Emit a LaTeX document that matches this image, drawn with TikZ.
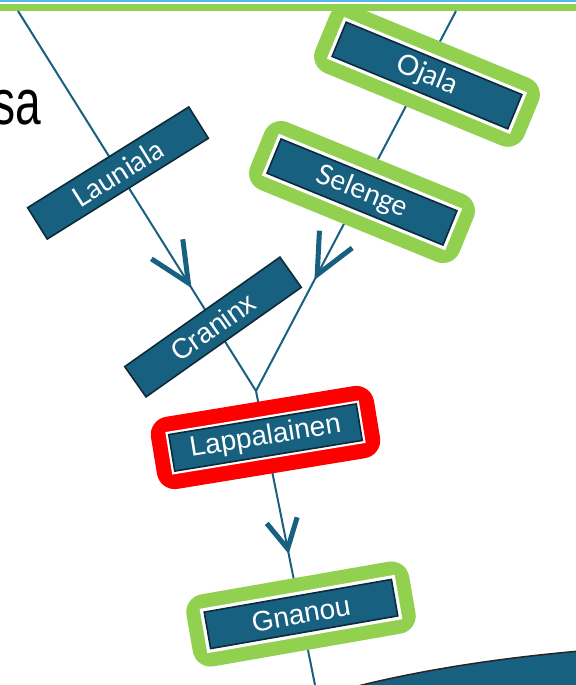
\documentclass[tikz,border=0pt]{standalone}
\usepackage{fontspec}
\setmainfont{Liberation Sans}
\newfontfamily\latofont{Lato}
\usetikzlibrary{arrows.meta,decorations.markings}
\definecolor{riverblue}{HTML}{17607F}
\definecolor{boxline}{HTML}{0E2A38}
\definecolor{okgreen}{HTML}{92D050}
\definecolor{skyline}{HTML}{56B4E9}
\tikzset{
  bigbarb/.tip={Straight Barb[length=20pt,width=18.5pt,line width=2.5pt,color=riverblue]},
  smallbarb/.tip={Straight Barb[length=14.5pt,width=15.5pt,line width=2.5pt,color=riverblue]}
}
\begin{document}
\begin{tikzpicture}[x=0.5pt,y=-0.5pt,
  flow/.style={riverblue,line width=1pt},
  lbl/.style={draw=boxline,fill=riverblue,line width=0.8pt,text=white,
    minimum width=95pt,minimum height=18.5pt,inner sep=0pt,
    font=\fontsize{14pt}{16pt}\selectfont},
  okframe/.style={preaction={draw=okgreen,line width=18pt,line join=round},
    preaction={draw=white,line width=4pt}},
  badframe/.style={preaction={draw=red,line width=18pt,line join=round},
    preaction={draw=white,line width=3pt}}]
\useasboundingbox (0,0) rectangle (576,685);

% top rules
\draw[skyline,line width=0.8pt] (0,0.8) -- (576,0.8);
\draw[okgreen,line width=3.5pt] (0,7.5) -- (576,7.5);

\node[anchor=base west,inner sep=0pt,xscale=0.72,font=\fontsize{32pt}{36pt}\selectfont] (title) at (-7.5,124) {sa};

% river lines
\coordinate (srcA) at (18,11);
\coordinate (srcB) at (456,11);
\coordinate (jn) at (256,391);
\coordinate (mouth) at (316,690);

\draw[flow,postaction={decorate},
  decoration={markings,mark=at position 0.729 with {\arrow{bigbarb}}}] (srcA) -- (jn);
\draw[flow,postaction={decorate},
  decoration={markings,mark=at position 0.708 with {\arrow{bigbarb}}}] (srcB) -- (jn);
\draw[flow,postaction={decorate},
  decoration={markings,mark=at position 0.545 with {\arrow{smallbarb}}}] (jn) -- (mouth);

% labels
\node[lbl,rotate=32,font=\latofont\fontsize{14pt}{16pt}\selectfont] (launiala) at (118,173) {Launiala};
\node[lbl,rotate=35.2] (craninx) at (213,327) {Craninx};
\node[lbl,okframe,rotate=-22.4,font=\latofont\fontsize{14pt}{16pt}\selectfont] (ojala) at (427,75.5) {Ojala};
\node[lbl,okframe,rotate=-22.2,font=\latofont\fontsize{14pt}{16pt}\selectfont] (selenge) at (362,192) {Selenge};
\node[lbl,badframe,rotate=9.3] (lappalainen) at (265.5,437.5) {Lappalainen};
\node[lbl,okframe,rotate=9.9] (gnanou) at (301,614) {Gnanou};

% sea
\draw[fill=riverblue,draw=black!85,line width=0.75pt]
  (350,688) .. controls (420,670) and (500,658) .. (580,651) -- (580,688) -- cycle;
\end{tikzpicture}
\end{document}
